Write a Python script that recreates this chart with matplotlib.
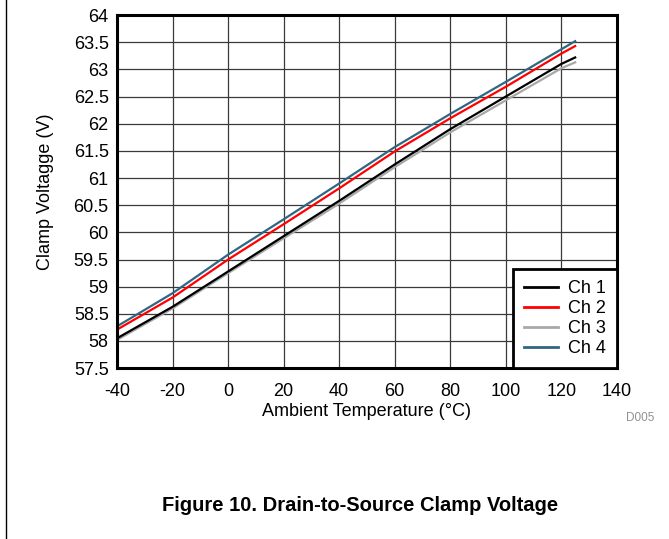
import matplotlib.pyplot as plt
from matplotlib.lines import Line2D

plt.rcParams['font.family'] = ['Liberation Sans', 'DejaVu Sans']

# values
temp = [-40, -20, 0, 20, 40, 60, 80, 100, 120, 125]
ch1 = [58.05, 58.63, 59.28, 59.93, 60.58, 61.25, 61.90, 62.50, 63.10, 63.22]
ch2 = [58.21, 58.80, 59.50, 60.15, 60.81, 61.49, 62.10, 62.68, 63.29, 63.43]
ch3 = [58.02, 58.60, 59.25, 59.89, 60.53, 61.20, 61.84, 62.43, 63.02, 63.13]
ch4 = [58.27, 58.88, 59.59, 60.24, 60.90, 61.57, 62.18, 62.77, 63.37, 63.52]

names = ["Ch 1", "Ch 2", "Ch 3", "Ch 4"]
colors = ["#000000", "#ff0000", "#a8a8a8", "#2f6783"]

xticks = list(range(-40, 141, 20))
yticks = [57.5 + 0.5 * i for i in range(14)]

fig = plt.figure(figsize=(6.69, 5.39), dpi=100)
ax = fig.add_axes([0.175, 0.317, 0.747, 0.655])

# grey drawn first so black sits on top of it
order = [2, 0, 1, 3]
series = [ch1, ch2, ch3, ch4]
for i in order:
    ax.plot(temp, series[i], color=colors[i], lw=1.6, zorder=3)

ax.set_xlim(-40, 140)
ax.set_ylim(57.5, 64)
ax.set_xticks(xticks)
ax.set_yticks(yticks)
ax.set_xticklabels([str(t) for t in xticks])
ax.set_yticklabels([f"{v:g}" for v in yticks])
ax.tick_params(length=0, labelsize=13, colors="black")
ax.tick_params(axis="x", pad=11)
ax.tick_params(axis="y", pad=6)
ax.grid(True, color="#3a3a3a", lw=0.9)
for s in ax.spines.values():
    s.set_linewidth(2.2)
    s.set_zorder(5)

ax.set_xlabel("Ambient Temperature (°C)", fontsize=13, labelpad=2)
ax.set_ylabel("Clamp Voltagge (V)", fontsize=13, labelpad=14)

handles = [Line2D([], [], color=c, lw=2) for c in colors]
leg = ax.legend(handles, names, loc="lower right", fontsize=13,
                fancybox=False, framealpha=1, edgecolor="black",
                borderaxespad=0, handlelength=1.9, labelspacing=0.17,
                borderpad=0.6, handletextpad=0.55)
leg.get_frame().set_linewidth(2)
leg.set_zorder(6)

fig.text(0.957, 0.225, "D005", fontsize=8.5, color="#909090", ha="center", va="center")
fig.text(0.538, 0.063, "Figure 10. Drain-to-Source Clamp Voltage",
         fontsize=14.5, fontweight="bold", ha="center", va="center")
fig.add_artist(Line2D([0.009, 0.009], [0, 1], color="black", lw=1,
                      transform=fig.transFigure))

fig.savefig("out.png", dpi=100)
